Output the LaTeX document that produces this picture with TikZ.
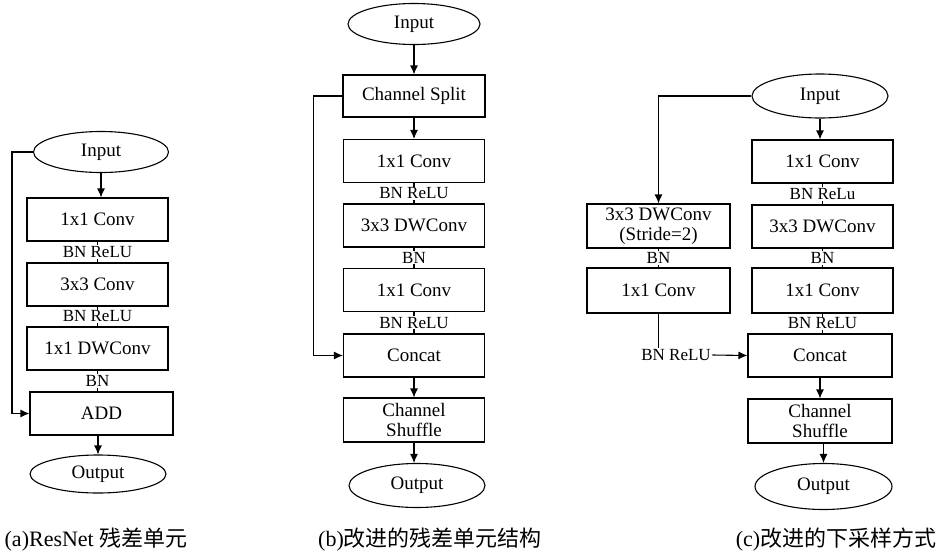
\documentclass[tikz,border=0pt]{standalone}
\usepackage{fontspec}
\setmainfont{Liberation Serif}
\newfontfamily\cjk{Noto Sans CJK SC}
\usetikzlibrary{arrows.meta, shapes.geometric}

\begin{document}
\begin{tikzpicture}[x=1pt, y=-1pt, line width=1.1pt,
		blk/.style={draw, minimum width=141pt, minimum height=43pt, inner sep=1pt, align=center, font=\fontsize{19}{20}\selectfont},
		io/.style={draw, ellipse, minimum width=135pt, minimum height=41pt, inner sep=1pt, font=\fontsize{19}{20}\selectfont},
		lbl/.style={fill=white, inner sep=1pt, font=\fontsize{17}{18}\selectfont},
		captxt/.style={font=\fontsize{22}{24}\selectfont},
		arr/.style={-{Latex[length=9pt, width=8pt]}}]
		\useasboundingbox (0, 0) rectangle (940, 552);
		% (a) ResNet
		\node[io] (inA) at (101, 152) {Input};
		\node[blk] (a1) at (97.5, 219.5) {1x1 Conv};
		\node[blk] (a2) at (97.5, 284.5) {3x3 Conv};
		\node[blk] (a3) at (97.5, 348.5) {1x1 DWConv};
		\node[blk, minimum width=143pt] (addA) at (101.5, 413.5) {ADD};
		\node[io, minimum width=136pt, minimum height=38pt] (outA) at (98, 474) {Output};
		\draw[arr] (inA.south) -- (inA.south |- a1.north);
		\draw (a1) -- (a2) node[midway, lbl] {BN ReLU};
		\draw (a2) -- (a3) node[midway, lbl] {BN ReLU};
		\draw (a3.south) -- (a3.south |- addA.north) node[midway, lbl] {BN};
		\draw[arr] (outA.north |- addA.south) -- (outA.north);
		\draw[arr] (inA.west) -- ++(-21, 0) |- (addA.west);
		% (b)
		\node[io, minimum width=132pt] (inB) at (414, 24) {Input};
		\node[blk, minimum width=142pt, minimum height=42pt] (split) at (414, 96) {Channel Split};
		\node[blk] (b1) at (414, 161) {1x1 Conv};
		\node[blk] (b2) at (414, 225.5) {3x3 DWConv};
		\node[blk] (b3) at (414, 290) {1x1 Conv};
		\node[blk] (catB) at (414, 355.5) {Concat};
		\node[blk, minimum height=44pt] (shufB) at (414, 420) {Channel\\Shuffle};
		\node[io, minimum width=136pt, minimum height=44pt] (outB) at (417, 485.5) {Output};
		\draw[arr] (inB) -- (split);
		\draw[arr] (split) -- (b1);
		\draw (b1) -- (b2) node[midway, lbl] {BN ReLU};
		\draw (b2) -- (b3) node[midway, lbl] {BN};
		\draw (b3) -- (catB) node[midway, lbl] {BN ReLU};
		\draw[arr] (catB) -- (shufB);
		\draw[arr] (shufB.south) -- (shufB.south |- outB.north);
		\draw[arr] (split.west) -- ++(-29, 0) |- (catB.west);
		% (c)
		\node[io, minimum width=136pt, minimum height=44pt] (inC) at (820, 96) {Input};
		\node[blk] (c1) at (822.5, 161.5) {1x1 Conv};
		\node[blk] (c2) at (822.5, 226.5) {3x3 DWConv};
		\node[blk, minimum height=45pt] (c3) at (822.5, 290.5) {1x1 Conv};
		\node[blk, minimum width=144pt] (catC) at (820, 355.5) {Concat};
		\node[blk, minimum width=144pt, minimum height=44pt] (shufC) at (820, 421) {Channel\\Shuffle};
		\node[io, minimum width=137pt, minimum height=46pt] (outC) at (823.5, 486.5) {Output};
		\node[blk, minimum width=143pt, minimum height=44pt] (d1) at (658.5, 226) {3x3 DWConv\\(Stride=2)};
		\node[blk, minimum width=143pt, minimum height=45pt] (d2) at (658.5, 290.5) {1x1 Conv};
		\node[lbl] (reluC) at (676, 355) {BN ReLU};
		\draw[arr] (inC.south) -- (inC.south |- c1.north);
		\draw (c1) -- (c2) node[midway, lbl] {BN ReLu};
		\draw (c2) -- (c3) node[midway, lbl] {BN};
		\draw (c3.south) -- (c3.south |- catC.north) node[midway, lbl] {BN ReLU};
		\draw[arr] (catC) -- (shufC);
		\draw[arr] (outC.north |- shufC.south) -- (outC.north);
		\draw[arr] (inC.west) -| (d1.north);
		\draw (d1) -- (d2) node[midway, lbl] {BN};
		\draw (d2.south) -- (d2.south |- reluC.north);
		\draw[arr] (reluC.east) -- (catC.west);
		% captions
		\node[captxt] (capA) at (96, 540) {(a)ResNet {\cjk 残差单元}};
		\node[captxt] (capB) at (430, 540) {(b){\cjk 改进的残差单元结构}};
		\node[captxt] (capC) at (836, 540) {(c){\cjk 改进的下采样方式}};
	\end{tikzpicture}
\end{document}
